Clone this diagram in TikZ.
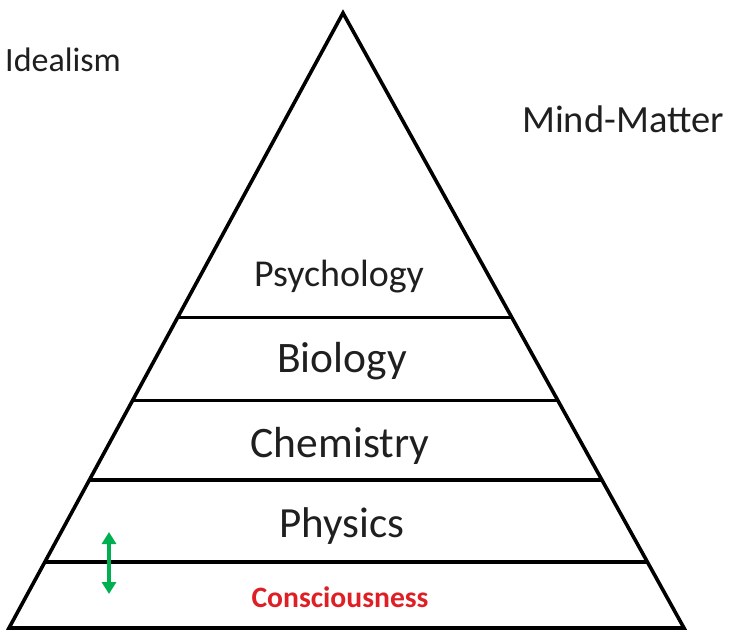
\documentclass[tikz,border=0pt]{standalone}
\usepackage{fontspec}
\setmainfont{Carlito}
\usetikzlibrary{calc,arrows.meta}
\definecolor{mindred}{RGB}{222,32,38}
\definecolor{arrowgreen}{RGB}{0,176,80}
\begin{document}
\begin{tikzpicture}[x=1pt, y=-1pt, line join=miter, line cap=butt,
		layer/.style={line width=3.6pt, black},
		lbl/.style={font=\fontsize{#1}{#1}\selectfont, anchor=base, inner sep=0pt, text=black!88},
		levelarrow/.style={<->, >={Triangle[length=12pt, width=14pt]}, line width=3.4pt, arrowgreen}]
		% Page frame (reference size in px)
		\useasboundingbox (0,0) rectangle (736,634);
		
		% Corners of the pyramid
		\coordinate (apex) at (343,13);
		\coordinate (bl) at (9,628);
		\coordinate (br) at (684,628);
		\draw[layer] (apex) -- (bl) -- (br) -- cycle;
		
		% Dividing lines between the layers
		\foreach \t/\name in {0.4951/psy, 0.6299/bio, 0.7597/chem, 0.8929/phys}{
			\coordinate (\name L) at ($(apex)!\t!(bl)$);
			\coordinate (\name R) at ($(apex)!\t!(br)$);
			\draw[layer] (\name L) -- (\name R);
		}
		
		% Side labels
		\node[lbl=34, anchor=base west] (ideal) at (5,71) {Idealism};
		\node[lbl=38.5] (mindmatter) at (623,132) {Mind-Matter};
		
		% Layer labels
		\node[lbl=38] (psychology) at (339,286) {Psychology};
		\node[lbl=43.5] (biology) at (342,372) {Biology};
		\node[lbl=43.5] (chemistry) at (340,457) {Chemistry};
		\node[lbl=43] (physics) at (342,537) {Physics};
		\node[lbl=29.6, font=\fontsize{29.6}{30}\selectfont\bfseries, text=mindred] (consc) at (340,607) {Consciousness};
		
		% Green double arrow across the lowest line
		\coordinate (arrowtop) at (109,532);
		\coordinate (arrowbot) at (109,594);
		\draw[levelarrow] (arrowtop) -- (arrowbot);
	\end{tikzpicture}
\end{document}
